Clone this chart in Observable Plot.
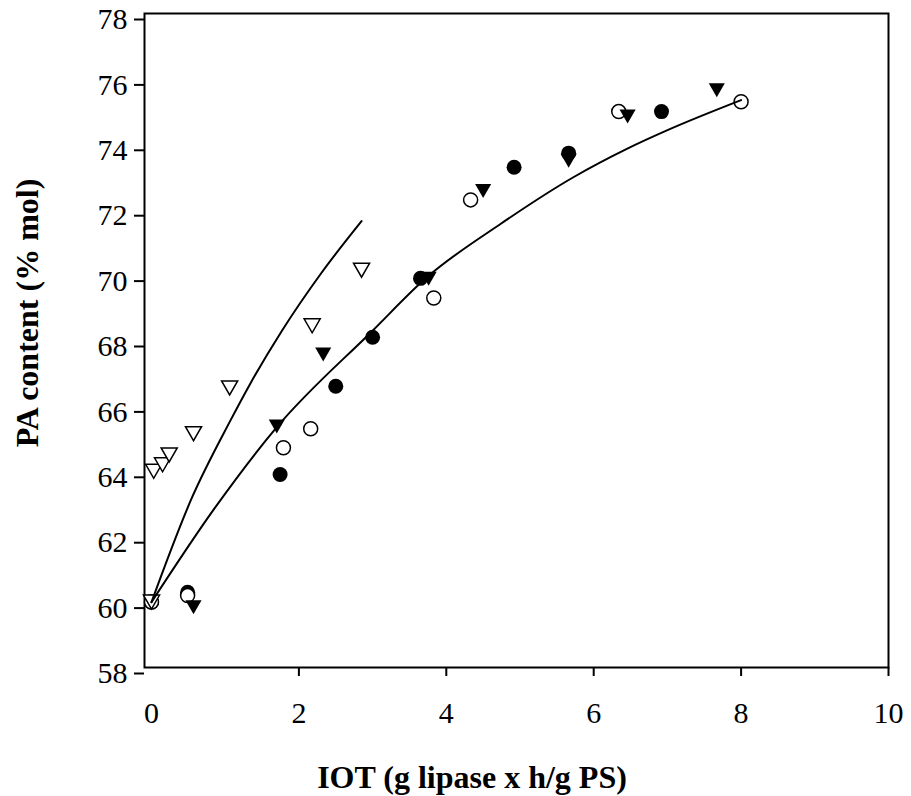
<!DOCTYPE html>
<html><head><meta charset="utf-8">
<script src="https://cdn.jsdelivr.net/npm/d3@7"></script>
<script src="https://cdn.jsdelivr.net/npm/@observablehq/plot@0.6"></script>
<style>body{margin:0;background:#fff} #chart svg{display:block}</style>
</head><body><div id="chart"></div>
<script>
// Tick labels
const xTicks = [0, 2, 4, 6, 8, 10];
const yTicks = [58, 60, 62, 64, 66, 68, 70, 72, 74, 76, 78];
const xTitle = "IOT (g lipase x h/g PS)";
const yTitle = "PA content (% mol)";

// Series: open inverted triangles
const openTriX = [0, 0.03, 0.15, 0.24, 0.57, 1.06, 2.18, 2.85];
const openTriY = [60, 64.0, 64.2, 64.5, 65.15, 66.55, 68.45, 70.15];
// Series: filled inverted triangles
const fillTriX = [0, 0.57, 1.70, 2.33, 3.76, 4.50, 5.66, 6.46, 7.67];
const fillTriY = [60, 59.84, 65.37, 67.57, 69.89, 72.57, 73.50, 74.85, 75.65];
// Series: filled circles
const fillCircX = [0, 0.49, 1.745, 2.50, 3.00, 3.65, 4.92, 5.66, 6.92];
const fillCircY = [60, 60.30, 63.90, 66.60, 68.10, 69.90, 73.30, 73.73, 75.00];
// Series: open circles
const openCircX = [0, 0.49, 1.79, 2.16, 3.83, 4.33, 6.34, 8.00];
const openCircY = [60, 60.20, 64.72, 65.30, 69.30, 72.30, 75.00, 75.30];
// Fitted curves
const fit1X = [0, 0.55, 1.07, 1.34, 1.77, 2.30, 2.85];
const fit1Y = [60, 63.20, 65.55, 66.68, 68.30, 70.05, 71.65];
const fit2X = [0, 0.85, 1.70, 3.00, 3.74, 4.74, 5.73, 6.45, 7.04, 8.00];
const fit2Y = [60, 62.85, 65.35, 68.30, 69.94, 71.57, 73.00, 73.86, 74.47, 75.35];

const toRows = (xs, ys) => xs.map((x, i) => ({x, y: ys[i]}));

const triangleDown = {
  draw(context, size) {
    const s = Math.sqrt(size / Math.PI);
    context.moveTo(-1.15 * s, -s);
    context.lineTo(1.15 * s, -s);
    context.lineTo(0, s);
    context.closePath();
  }
};

const chart = Plot.plot({
  width: 911,
  height: 796,
  marginLeft: 144,
  marginRight: 23,
  marginTop: 13,
  marginBottom: 129,
  style: {fontFamily: "'Liberation Serif', 'Times New Roman', serif", fontSize: "30px", color: "black", background: "white"},
  x: {domain: [-0.095, 10]},
  y: {domain: [58, 78]},
  marks: [
    Plot.frame({stroke: "black", strokeWidth: 2}),
    Plot.axisX(xTicks, {tickSize: 0, tickPadding: 34, fontSize: 30, label: null}),
    Plot.axisX(xTicks.filter(d => d !== 0), {tickSize: 9, strokeWidth: 2, text: null, label: null}),
    Plot.axisY(yTicks, {tickSize: 10, tickPadding: 7, strokeWidth: 2, fontSize: 30, label: null, dy: 6}),
    Plot.dot(toRows(fillCircX, fillCircY), {x: "x", y: "y", r: 7.5, fill: "black", stroke: "none"}),
    Plot.dot(toRows(openCircX, openCircY), {x: "x", y: "y", r: 7, fill: "white", stroke: "black", strokeWidth: 1.5}),
    Plot.dot(toRows(fillTriX, fillTriY), {x: "x", y: "y", r: 7, symbol: triangleDown, fill: "black", stroke: "none"}),
    Plot.dot(toRows(openTriX, openTriY), {x: "x", y: "y", r: 7, symbol: triangleDown, fill: "white", stroke: "black", strokeWidth: 1.5}),
    Plot.line(toRows(fit1X, fit1Y), {x: "x", y: "y", curve: "monotone-x", stroke: "black", strokeWidth: 2}),
    Plot.line(toRows(fit2X, fit2Y), {x: "x", y: "y", curve: "monotone-x", stroke: "black", strokeWidth: 2})
  ]
});

const svg = d3.select(chart);
svg.append("text")
  .attr("x", 472).attr("y", 788)
  .attr("text-anchor", "middle")
  .attr("font-family", "'Liberation Serif', 'Times New Roman', serif")
  .attr("font-weight", "bold").attr("font-size", 32)
  .attr("fill", "black")
  .text(xTitle);
svg.append("text")
  .attr("transform", "translate(38,313) rotate(-90)")
  .attr("text-anchor", "middle")
  .attr("font-family", "'Liberation Serif', 'Times New Roman', serif")
  .attr("font-weight", "bold").attr("font-size", 32)
  .attr("fill", "black")
  .text(yTitle);

document.getElementById("chart").appendChild(chart);
</script>
</body></html>
